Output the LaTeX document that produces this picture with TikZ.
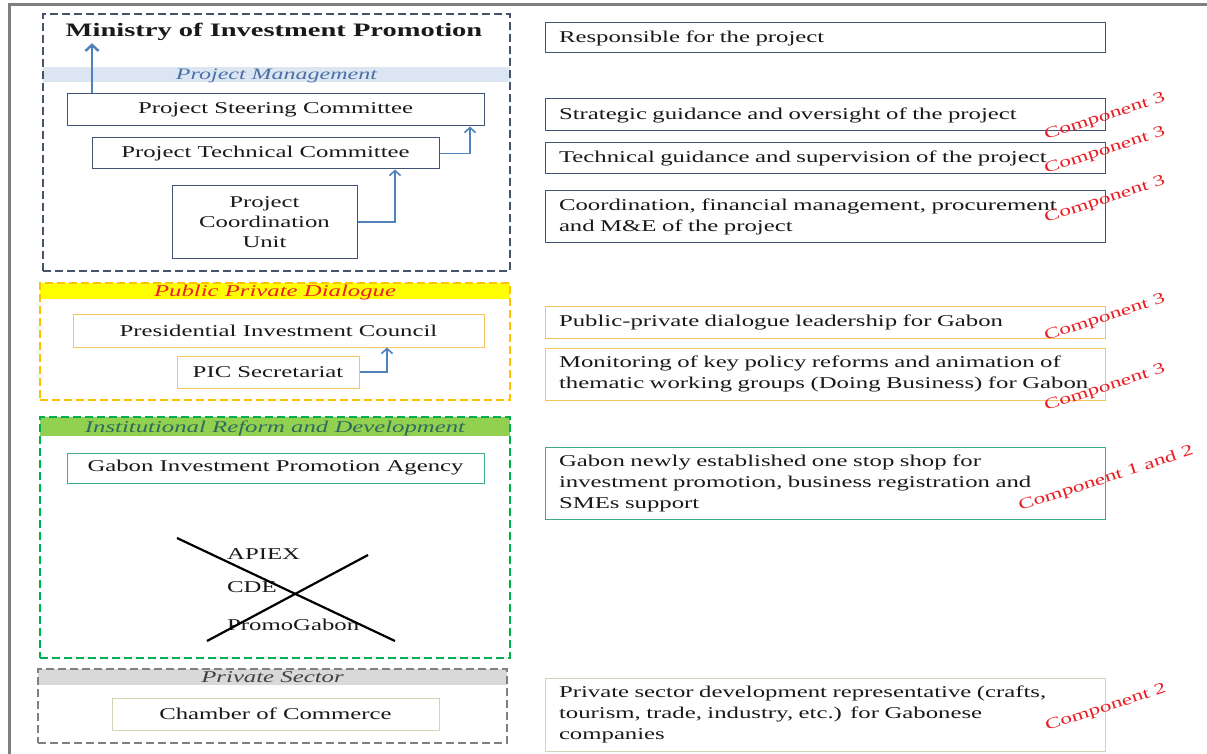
\documentclass[tikz,border=0pt]{standalone}
\usepackage{fontspec}
\setmainfont{Liberation Serif}[FakeStretch=1.5]
\usetikzlibrary{arrows.meta}
\definecolor{frame}{HTML}{7F7F7F}
\definecolor{pmblue}{HTML}{44546A}
\definecolor{boxblue}{HTML}{3F5372}
\definecolor{arrowblue}{HTML}{4F81BD}
\definecolor{pmband}{HTML}{DCE6F2}
\definecolor{pmtext}{HTML}{4A6FA5}
\definecolor{ppdline}{HTML}{FFC000}
\definecolor{ppdband}{HTML}{FFFF00}
\definecolor{ppdtext}{HTML}{E8202A}
\definecolor{ppdbox}{HTML}{F5C45E}
\definecolor{irdline}{HTML}{00B050}
\definecolor{irdband}{HTML}{92D050}
\definecolor{irdtext}{HTML}{2E6B5E}
\definecolor{irdbox}{HTML}{3EAA80}
\definecolor{psline}{HTML}{808080}
\definecolor{psband}{HTML}{D9D9D9}
\definecolor{pstext}{HTML}{404040}
\definecolor{psbox}{HTML}{D6D2B4}
\definecolor{comp}{HTML}{E81E25}
\begin{document}
\begin{tikzpicture}[x=1pt,y=-1pt,
  every node/.style={font=\fontsize{16.5}{21}\selectfont, text=black!90},
  lbox/.style={draw=#1, line width=1pt, inner sep=0pt, align=center},
  rbox/.style={draw=#1, line width=1pt, minimum width=560pt, text width=532pt, inner xsep=14pt, inner ysep=0pt, align=left},
  group/.style={draw=#1, line width=2.5pt, dash pattern=on 8pt off 4pt, inner sep=0pt},
  band/.style={fill=#1, inner sep=0pt, text height=11pt, text depth=0pt},
  arr/.style={draw=arrowblue, line width=1.6pt, -{Straight Barb[length=5pt,width=11pt]}},
  compo/.style={text=comp, rotate=18, font=\fontsize{15.5}{18}\selectfont, inner sep=0pt}]
\fill[white] (0,0) rectangle (1207,754);
\useasboundingbox (0,0) rectangle (1207,754);
% outer frame
\draw[frame, line width=3pt] (9.5,754) -- (9.5,4.5) -- (1207,4.5);

% ---------- Project Management ----------
\node[band=pmband, minimum width=467pt, minimum height=15pt, text=pmtext, font=\fontsize{16}{19}\selectfont\itshape] (pmb) at (276.5,74.5) {Project Management};
\node[group=pmblue, minimum width=467pt, minimum height=257pt] (pm) at (276.5,142.5) {};
\node[font=\fontsize{19}{22}\selectfont\bfseries, inner sep=0pt, minimum height=22pt] (mip) at (274,32) {Ministry of Investment Promotion};
\node[lbox=boxblue, minimum width=417pt, minimum height=32pt] (psc) at (275.5,110) {Project Steering Committee};
\node[lbox=boxblue, minimum width=347pt, minimum height=31pt] (ptc) at (265.5,153.5) {Project Technical Committee};
\node[lbox=boxblue, minimum width=185pt, minimum height=72pt, font=\fontsize{16.5}{20}\selectfont] (pcu) at (264.5,222) {Project\\Coordination\\Unit};
\coordinate (xa) at (92,0);
\coordinate (xb) at (470,0);
\coordinate (xc) at (395,0);
\draw[arr, line width=2.5pt, -{Straight Barb[length=6pt,width=13pt]}] (psc.north -| xa) -- (mip.south -| xa);
\draw[arr] (ptc.east) -| (psc.south -| xb);
\draw[arr] (pcu.east) -| (ptc.south -| xc);

% ---------- Public Private Dialogue ----------
\node[band=ppdband, minimum width=470pt, minimum height=16pt, text=ppdtext, font=\fontsize{16.5}{19}\selectfont\itshape] (ppdb) at (275,291) {Public Private Dialogue};
\node[group=ppdline, minimum width=470pt, minimum height=117pt] (ppd) at (275,341.5) {};
\node[lbox=ppdbox, minimum width=411pt, minimum height=33pt] (pic) at (278.5,330.5) {Presidential Investment Council};
\node[lbox=ppdbox, minimum width=182pt, minimum height=32pt] (pics) at (268,372) {PIC Secretariat};
\coordinate (xd) at (387,0);
\draw[arr] (pics.east) -| (pic.south -| xd);

% ---------- Institutional Reform and Development ----------
\node[band=irdband, minimum width=470pt, minimum height=19pt, text=irdtext, text height=12pt, font=\fontsize{16.5}{19}\selectfont\itshape] (irdb) at (275,426.5) {Institutional Reform and Development};
\node[group=irdline, minimum width=470pt, minimum height=241pt] (ird) at (275,537.5) {};
\node[lbox=irdbox, minimum width=417pt, minimum height=30pt] (gipa) at (275.5,468) {Gabon Investment Promotion Agency};
\node[anchor=west, inner sep=0pt] (apiex) at (227,554) {APIEX};
\node[anchor=west, inner sep=0pt] (cde) at (227,587) {CDE};
\node[anchor=west, inner sep=0pt] (promo) at (227,625) {PromoGabon};
\draw[black, line width=2.2pt] (177,538) -- (395,641);
\draw[black, line width=2.2pt] (207,641) -- (368,555);

% ---------- Private Sector ----------
\node[band=psband, minimum width=469pt, minimum height=16pt, text=pstext, font=\fontsize{16.5}{19}\selectfont\itshape] (psb) at (272.5,677) {Private Sector};
\node[group=psline, minimum width=469pt, minimum height=74pt] (ps) at (272.5,706) {};
\node[lbox=psbox, minimum width=327pt, minimum height=32pt] (coc) at (275.5,714) {Chamber of Commerce};

% ---------- Right column ----------
\node[rbox=boxblue, minimum height=30pt] (r1) at (825,38) {Responsible for the project};
\node[rbox=boxblue, minimum height=32pt] (r2) at (825,115) {Strategic guidance and oversight of the project};
\node[rbox=boxblue, minimum height=31pt] (r3) at (825,158.5) {Technical guidance and supervision of the project};
\node[rbox=boxblue, minimum height=51pt] (r4) at (825,216.5) {Coordination, financial management, procurement\\and M\&E of the project};
\node[rbox=ppdbox, minimum height=32pt] (r5) at (825,322) {Public-private dialogue leadership for Gabon};
\node[rbox=ppdbox, minimum height=52pt] (r6) at (825,374) {Monitoring of key policy reforms and animation of\\thematic working groups (Doing Business) for Gabon};
\node[rbox=irdbox, minimum height=72pt] (r7) at (825,483) {Gabon newly established one stop shop for\\investment promotion, business registration and\\SMEs support};
\node[rbox=psbox, minimum height=73pt] (r8) at (825,714.5) {Private sector development representative (crafts,\\tourism, trade, industry, etc.) for Gabonese\\companies};

% component labels
\node[compo] (c2) at (1105,117) {Component 3};
\node[compo] (c3) at (1105,151) {Component 3};
\node[compo] (c4) at (1105,200) {Component 3};
\node[compo] (c5) at (1105,318) {Component 3};
\node[compo] (c6) at (1105,388) {Component 3};
\node[compo] (c7) at (1106,479) {Component 1 and 2};
\node[compo] (c8) at (1106,708) {Component 2};
\end{tikzpicture}
\end{document}
